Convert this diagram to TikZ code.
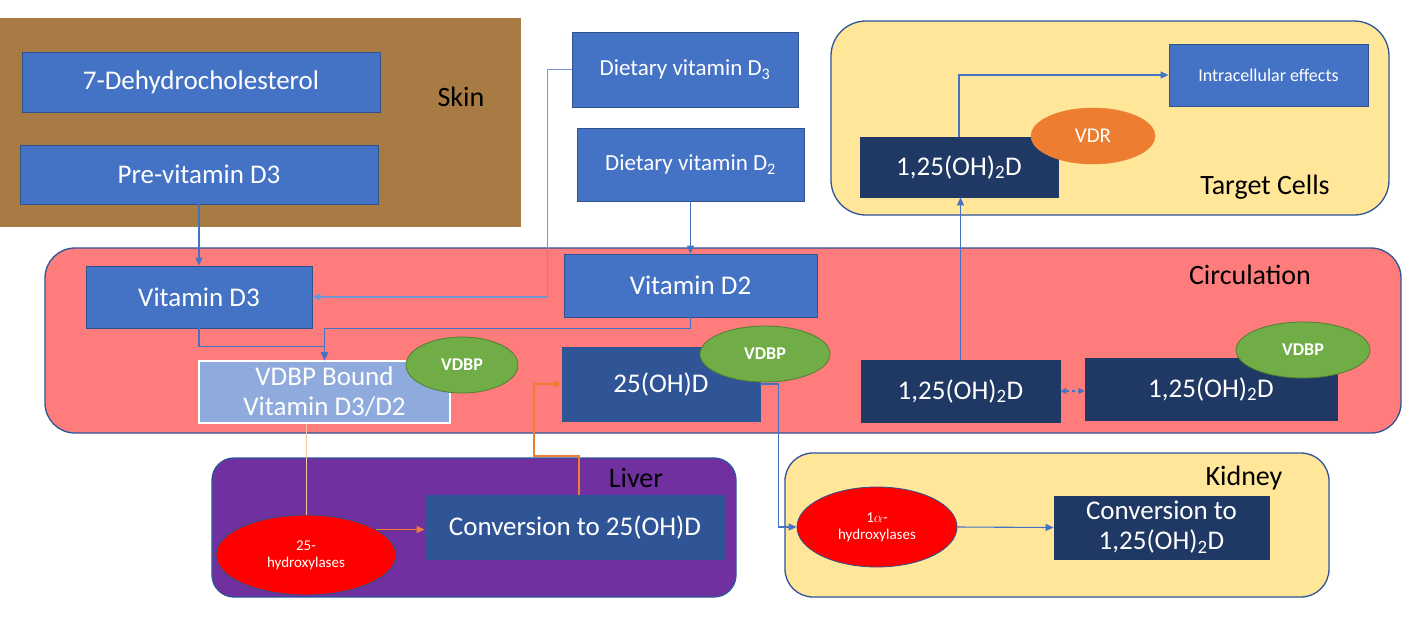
\documentclass[tikz,border=0pt]{standalone}
\usepackage{fontspec}
\setmainfont{Carlito}
\usetikzlibrary{arrows.meta,shapes.geometric,calc}
\definecolor{skinbrown}{HTML}{A87B45}
\definecolor{boxblue}{HTML}{4472C4}
\definecolor{boxedge}{HTML}{2F528F}
\definecolor{midblue}{HTML}{2F5597}
\definecolor{navy}{HTML}{203864}
\definecolor{lightblue}{HTML}{8FAADC}
\definecolor{circfill}{HTML}{FF7C7C}
\definecolor{cellfill}{HTML}{FFE699}
\definecolor{liverfill}{HTML}{7030A0}
\definecolor{vgreen}{HTML}{70AD47}
\definecolor{vgreenedge}{HTML}{507E32}
\definecolor{vorange}{HTML}{ED7D31}
\definecolor{regionedge}{HTML}{2F5597}
\newcommand{\fbig}{\fontsize{27}{31}\selectfont}
\newcommand{\fmid}{\fontsize{23}{27}\selectfont}
\newcommand{\fsmall}{\fontsize{18}{21}\selectfont}
\newcommand{\ftiny}{\fontsize{15}{17}\selectfont}
\begin{document}
\begin{tikzpicture}[x=1pt,y=-1pt,
  region/.style={draw=regionedge,line width=1.3pt},
  bbox/.style={draw=boxedge,fill=boxblue,text=white,inner sep=0pt,font=\fbig,line width=0.8pt},
  navybox/.style={bbox,fill=navy,draw=navy},
  midbox/.style={bbox,fill=midblue,draw=midblue},
  lightbox/.style={bbox,fill=lightblue,draw=white,line width=1.2pt},
  greenell/.style={ellipse,draw=vgreenedge,fill=vgreen,text=white,inner sep=0pt,font=\fsmall\bfseries,line width=0.8pt},
  orangeell/.style={ellipse,draw=vorange,fill=vorange,text=white,inner sep=0pt,font=\fontsize{21}{24}\selectfont},
  redell/.style={ellipse,draw=boxedge,fill=red,text=white,inner sep=0pt,font=\ftiny,align=center,line width=0.8pt},
  lbl/.style={text=black,font=\fontsize{28}{32}\selectfont,inner sep=0pt},
  tip/.style={-{Triangle[length=8pt,width=7pt]}},
  conn/.style={draw=boxblue,line width=1.1pt},
  lconn/.style={draw=boxblue!75,line width=1.1pt},
  oconn/.style={draw=vorange,line width=1.1pt},
  fconn/.style={draw=vorange!45,line width=0.9pt}]
\useasboundingbox[fill=white] (0,0) rectangle (1417,622);

% regions
\fill[skinbrown] (0,18) rectangle (521,227);
\draw[region,fill=cellfill,rounded corners=35pt] (831,21) rectangle (1389,215);
\draw[region,fill=circfill,rounded corners=30pt] (45,248) rectangle (1401,433);
\draw[region,fill=liverfill,rounded corners=22pt] (212,458) rectangle (736,597);
\draw[region,fill=cellfill,rounded corners=28pt] (785,453) rectangle (1329,597);

% region labels
\node[lbl] (skinlbl) at (461,97) {Skin};
\node[lbl] (targetlbl) at (1265,187) {Target Cells};
\node[lbl] (circlbl) at (1250,275) {Circulation};
\node[lbl] (liverlbl) at (636,478) {Liver};
\node[lbl] (kidneylbl) at (1244,478) {Kidney};

% boxes
\node[bbox,minimum width=358pt,minimum height=60pt] (dehyd) at (201,82) {7-Dehydrocholesterol};
\node[bbox,minimum width=358pt,minimum height=59pt] (prevd3) at (199,174.5) {Pre-vitamin D3};
\node[bbox,minimum width=226pt,minimum height=75pt,font=\fmid] (dd3) at (685,69.5) {Dietary vitamin D\textsubscript{3}};
\node[bbox,minimum width=227pt,minimum height=73pt,font=\fmid] (dd2) at (690.5,164.5) {Dietary vitamin D\textsubscript{2}};
\node[bbox,minimum width=199pt,minimum height=62pt,font=\fsmall] (intra) at (1268.5,75) {Intracellular effects};
\node[navybox,minimum width=198pt,minimum height=60pt] (t1) at (959,167) {1,25(OH)\textsubscript{2}D};
\node[bbox,minimum width=226pt,minimum height=62pt] (vd3) at (199,297) {Vitamin D3};
\node[bbox,minimum width=253pt,minimum height=63pt] (vd2) at (690.5,285.5) {Vitamin D2};
\node[lightbox,minimum width=251pt,minimum height=62pt,align=center,font=\fontsize{27}{30}\selectfont] (vdbpb) at (324.5,392) {VDBP Bound\\Vitamin D3/D2};
\node[midbox,minimum width=198pt,minimum height=74pt] (oh25) at (661,384) {25(OH)D};
\node[navybox,minimum width=199pt,minimum height=62pt] (c1) at (960.5,391) {1,25(OH)\textsubscript{2}D};
\node[navybox,minimum width=252pt,minimum height=62pt] (c2) at (1211,389) {1,25(OH)\textsubscript{2}D};
\node[midbox,minimum width=300pt,minimum height=64pt] (conv25) at (575,527) {Conversion to 25(OH)D};
\node[navybox,minimum width=215pt,minimum height=63pt,align=center,font=\fontsize{27}{30}\selectfont] (convk) at (1161.5,527.5) {Conversion to\\1,25(OH)\textsubscript{2}D};

% connectors
\coordinate (o1) at (579,456);
\coordinate (o2) at (534,456);
\draw[conn,tip] (prevd3.south) -- (vd3.north);
\draw[lconn,tip] (dd3.west) -- ++(-24,0) |- (vd3.east);
\draw[conn,tip] (dd2.south) -- (vd2.north);
\draw[conn,tip] (vd3.south) -- ++(0,18) -| (vdbpb.north);
\draw[conn,tip] (vd2.south) -- ++(0,11) -| (vdbpb.north);
\draw[conn,tip] (c1.north) -- (c1.north |- t1.south);
\draw[conn,tip] (t1.north) |- (intra.west);
\draw[conn,dashed,{Triangle[length=6pt,width=6pt]}-{Triangle[length=6pt,width=6pt]}] (c1.east) -- (c1.east -| c2.west);

% ellipses
\node[greenell,minimum width=112pt,minimum height=56pt] (e1) at (462,365) {VDBP};
\node[greenell,minimum width=130pt,minimum height=56pt] (e2) at (765,354) {VDBP};
\node[greenell,minimum width=134pt,minimum height=56pt] (e3) at (1303,350) {VDBP};
\node[orangeell,minimum width=124pt,minimum height=56pt] (vdr) at (1093,136) {VDR};
\node[redell,minimum width=180pt,minimum height=80pt] (h25) at (306,555) {25-\\hydroxylases};
\node[redell,minimum width=160pt,minimum height=80pt] (h1a) at (877,527) {1$\alpha$-\\hydroxylases};

% connectors touching the ellipses
\draw[fconn] (h25.north |- vdbpb.south) -- (h25.north);
\draw[oconn,tip] (h25.20) -- (h25.20 -| conv25.west);
\draw[oconn,tip] (conv25.north -| o1) -- (o1) -- (o2) |- (oh25.west);
\draw[conn,tip] (h1a.east) -- (convk.west);
\draw[conn,tip] (oh25.east) -- ++(18,0) |- (h1a.west);
\end{tikzpicture}
\end{document}
